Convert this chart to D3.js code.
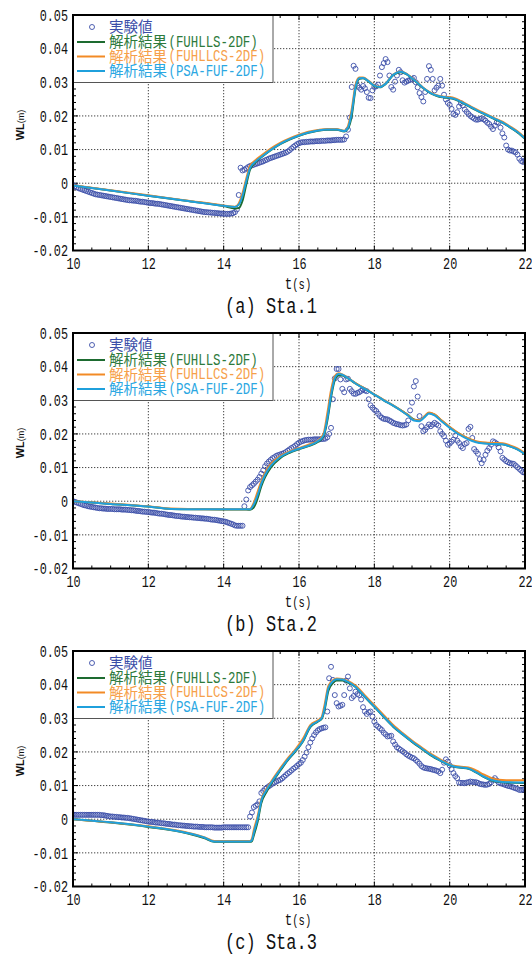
<!DOCTYPE html>
<html><head><meta charset="utf-8">
<script src="https://cdn.jsdelivr.net/npm/d3@7"></script>
<style>body{margin:0;background:#fff}svg{display:block}</style>
</head><body>
<svg id="c" width="532" height="955"></svg>
<script>
// ---------- DATA ----------
const expStart = 10, expStep = 0.05;   // measurement sampling grid (s)
const sta1Exp = [
-0.0006,-0.0009,-0.0012,-0.0015,-0.0017,-0.0019,-0.0021,-0.0023,-0.0025,-0.0027,-0.0029,-0.0031,-0.0033,-0.0034,-0.0035,-0.0036,-0.0037,-0.0038,-0.0039,-0.0040,
-0.0041,-0.0042,-0.0043,-0.0044,-0.0045,-0.0046,-0.0047,-0.0048,-0.0049,-0.0050,-0.0051,-0.0051,-0.0052,-0.0052,-0.0053,-0.0054,-0.0055,-0.0055,-0.0056,-0.0057,
-0.0058,-0.0059,-0.0059,-0.0060,-0.0061,-0.0061,-0.0062,-0.0063,-0.0064,-0.0065,-0.0066,-0.0067,-0.0068,-0.0069,-0.0070,-0.0071,-0.0072,-0.0073,-0.0074,-0.0075,
-0.0076,-0.0077,-0.0078,-0.0079,-0.0080,-0.0081,-0.0082,-0.0083,-0.0084,-0.0085,-0.0086,-0.0086,-0.0087,-0.0087,-0.0088,-0.0088,-0.0089,-0.0089,-0.0090,-0.0090,
-0.0091,-0.0091,-0.0091,-0.0091,-0.0090,-0.0089,-0.0086,-0.0078,-0.0035,0.0046,0.0038,0.0040,0.0044,0.0048,0.0051,0.0053,0.0055,0.0057,0.0059,0.0061,
0.0063,0.0065,0.0068,0.0070,0.0073,0.0075,0.0077,0.0079,0.0081,0.0083,0.0085,0.0087,0.0089,0.0091,0.0094,0.0098,0.0103,0.0108,0.0112,0.0116,
0.0119,0.0121,0.0122,0.0122,0.0123,0.0123,0.0124,0.0124,0.0124,0.0125,0.0125,0.0125,0.0126,0.0126,0.0126,0.0127,0.0127,0.0127,0.0128,0.0128,
0.0129,0.0129,0.0129,0.0129,0.0130,0.0139,0.0159,0.0195,0.0286,0.0349,0.0340,0.0290,0.0284,0.0278,0.0289,0.0282,0.0271,0.0254,0.0253,0.0276,
0.0286,0.0288,0.0293,0.0320,0.0345,0.0357,0.0369,0.0360,0.0320,0.0286,0.0278,0.0302,0.0320,0.0337,0.0330,0.0306,0.0299,0.0302,0.0305,0.0307,
0.0310,0.0313,0.0300,0.0285,0.0268,0.0256,0.0243,0.0271,0.0310,0.0348,0.0337,0.0310,0.0276,0.0284,0.0290,0.0310,0.0290,0.0263,0.0249,0.0239,
0.0233,0.0221,0.0206,0.0203,0.0211,0.0228,0.0238,0.0231,0.0219,0.0212,0.0206,0.0200,0.0196,0.0192,0.0189,0.0189,0.0191,0.0193,0.0190,0.0186,
0.0180,0.0176,0.0168,0.0161,0.0171,0.0181,0.0180,0.0165,0.0148,0.0136,0.0112,0.0100,0.0097,0.0097,0.0094,0.0092,0.0085,0.0073,0.0066,0.0063,0.0068
];
const sta2Exp = [
0.0000,-0.0002,-0.0004,-0.0006,-0.0008,-0.0010,-0.0012,-0.0013,-0.0015,-0.0016,-0.0017,-0.0018,-0.0019,-0.0020,-0.0021,-0.0021,-0.0022,-0.0022,-0.0023,-0.0023,
-0.0023,-0.0023,-0.0024,-0.0024,-0.0024,-0.0024,-0.0025,-0.0025,-0.0025,-0.0026,-0.0026,-0.0027,-0.0027,-0.0028,-0.0029,-0.0029,-0.0030,-0.0031,-0.0031,-0.0032,
-0.0032,-0.0033,-0.0034,-0.0034,-0.0035,-0.0036,-0.0037,-0.0037,-0.0038,-0.0039,-0.0040,-0.0041,-0.0041,-0.0042,-0.0043,-0.0044,-0.0044,-0.0045,-0.0046,-0.0046,
-0.0047,-0.0047,-0.0048,-0.0048,-0.0049,-0.0049,-0.0050,-0.0050,-0.0051,-0.0051,-0.0052,-0.0052,-0.0053,-0.0054,-0.0055,-0.0055,-0.0056,-0.0057,-0.0058,-0.0059,
-0.0060,-0.0061,-0.0063,-0.0065,-0.0067,-0.0069,-0.0072,-0.0073,-0.0073,-0.0073,-0.0073,-0.0015,0.0005,0.0032,0.0042,0.0047,0.0052,0.0058,0.0064,0.0072,
0.0082,0.0092,0.0104,0.0112,0.0118,0.0123,0.0128,0.0131,0.0135,0.0137,0.0139,0.0141,0.0143,0.0146,0.0150,0.0154,0.0158,0.0161,0.0165,0.0170,
0.0174,0.0177,0.0179,0.0181,0.0182,0.0183,0.0183,0.0183,0.0184,0.0184,0.0184,0.0184,0.0185,0.0185,0.0186,0.0190,0.0200,0.0218,0.0303,0.0365,
0.0393,0.0393,0.0362,0.0334,0.0324,0.0362,0.0364,0.0334,0.0327,0.0320,0.0319,0.0322,0.0324,0.0328,0.0332,0.0329,0.0327,0.0303,0.0285,0.0278,
0.0272,0.0268,0.0260,0.0253,0.0248,0.0245,0.0244,0.0243,0.0240,0.0237,0.0233,0.0231,0.0229,0.0228,0.0226,0.0225,0.0226,0.0228,0.0240,0.0270,
0.0293,0.0341,0.0357,0.0311,0.0253,0.0223,0.0208,0.0212,0.0220,0.0228,0.0223,0.0228,0.0233,0.0229,0.0225,0.0208,0.0200,0.0193,0.0180,0.0168,
0.0171,0.0177,0.0183,0.0195,0.0180,0.0173,0.0163,0.0158,0.0170,0.0173,0.0215,0.0221,0.0188,0.0155,0.0148,0.0141,0.0125,0.0113,0.0123,0.0138,
0.0150,0.0158,0.0168,0.0178,0.0175,0.0171,0.0160,0.0148,0.0129,0.0124,0.0119,0.0116,0.0113,0.0112,0.0111,0.0106,0.0101,0.0096,0.0091,0.0086,0.0085
];
const sta3Exp = [
0.0013,0.0013,0.0013,0.0013,0.0013,0.0013,0.0013,0.0013,0.0013,0.0013,0.0013,0.0013,0.0013,0.0013,0.0013,0.0012,0.0012,0.0011,0.0010,0.0009,
0.0008,0.0008,0.0007,0.0007,0.0006,0.0006,0.0005,0.0005,0.0004,0.0004,0.0003,0.0002,0.0001,0.0000,-0.0001,-0.0002,-0.0003,-0.0004,-0.0005,-0.0006,
-0.0007,-0.0008,-0.0008,-0.0009,-0.0010,-0.0010,-0.0011,-0.0012,-0.0012,-0.0013,-0.0014,-0.0014,-0.0015,-0.0016,-0.0016,-0.0017,-0.0018,-0.0018,-0.0019,-0.0019,
-0.0020,-0.0020,-0.0021,-0.0021,-0.0022,-0.0022,-0.0022,-0.0023,-0.0023,-0.0023,-0.0024,-0.0024,-0.0024,-0.0024,-0.0024,-0.0025,-0.0025,-0.0025,-0.0025,-0.0025,
-0.0024,-0.0024,-0.0024,-0.0024,-0.0024,-0.0024,-0.0024,-0.0024,-0.0024,-0.0024,-0.0024,-0.0024,-0.0024,-0.0024,0.0008,0.0020,0.0036,0.0040,0.0044,0.0053,
0.0078,0.0084,0.0090,0.0094,0.0098,0.0102,0.0106,0.0109,0.0112,0.0115,0.0117,0.0121,0.0126,0.0131,0.0136,0.0140,0.0145,0.0150,0.0154,0.0159,
0.0164,0.0168,0.0176,0.0186,0.0198,0.0214,0.0228,0.0240,0.0250,0.0258,0.0264,0.0268,0.0270,0.0272,0.0273,0.0320,0.0419,0.0453,0.0414,0.0369,
0.0345,0.0335,0.0337,0.0340,0.0369,0.0412,0.0424,0.0389,0.0360,0.0366,0.0379,0.0372,0.0369,0.0356,0.0333,0.0320,0.0313,0.0318,0.0320,0.0305,
0.0290,0.0280,0.0275,0.0270,0.0265,0.0257,0.0252,0.0246,0.0247,0.0248,0.0231,0.0222,0.0214,0.0210,0.0206,0.0202,0.0198,0.0193,0.0189,0.0186,
0.0183,0.0181,0.0176,0.0171,0.0165,0.0158,0.0154,0.0152,0.0151,0.0150,0.0149,0.0147,0.0146,0.0144,0.0142,0.0137,0.0147,0.0168,0.0178,0.0171,
0.0160,0.0149,0.0137,0.0128,0.0122,0.0109,0.0108,0.0108,0.0107,0.0109,0.0110,0.0112,0.0111,0.0110,0.0110,0.0108,0.0105,0.0104,0.0103,0.0102,
0.0103,0.0105,0.0110,0.0117,0.0122,0.0115,0.0109,0.0107,0.0105,0.0103,0.0101,0.0099,0.0098,0.0096,0.0094,0.0092,0.0090,0.0087,0.0087,0.0088,0.0089
];

// model output times and values
const sta1ModelT = [10,11,12,13,14,14.3,14.4,14.5,14.6,14.7,14.85,15,15.25,15.5,15.75,16,16.25,16.5,16.75,17,17.2,17.3,17.4,17.5,17.6,17.7,17.85,18,18.15,18.3,18.5,18.7,18.85,19,19.15,19.3,19.5,19.7,19.85,20,20.15,20.3,20.5,20.7,21,21.2,21.4,21.6,21.8,22];
const sta1Fuhlls = [-0.0007,-0.0022,-0.0037,-0.0052,-0.0068,-0.0075,-0.0074,-0.0052,-0.0004,0.0040,0.0063,0.0077,0.0098,0.0116,0.0130,0.0141,0.0150,0.0156,0.0159,0.0159,0.0154,0.0162,0.0200,0.0280,0.0310,0.0312,0.0302,0.0289,0.0285,0.0295,0.0321,0.0330,0.0324,0.0311,0.0297,0.0282,0.0267,0.0258,0.0255,0.0253,0.0249,0.0241,0.0229,0.0217,0.0201,0.0190,0.0180,0.0166,0.0151,0.0132];
const sta1Fuhllcs = [-0.0006,-0.0021,-0.0036,-0.0051,-0.0066,-0.0070,-0.0060,-0.0030,0.0014,0.0052,0.0069,0.0082,0.0103,0.0120,0.0133,0.0144,0.0153,0.0158,0.0161,0.0161,0.0156,0.0170,0.0220,0.0292,0.0314,0.0314,0.0304,0.0291,0.0287,0.0297,0.0323,0.0332,0.0326,0.0313,0.0299,0.0284,0.0269,0.0260,0.0257,0.0256,0.0252,0.0244,0.0232,0.0220,0.0204,0.0193,0.0183,0.0169,0.0154,0.0135];
const sta1Psa = [-0.0007,-0.0022,-0.0037,-0.0052,-0.0067,-0.0071,-0.0064,-0.0038,0.0006,0.0045,0.0065,0.0078,0.0099,0.0117,0.0131,0.0142,0.0151,0.0157,0.0160,0.0160,0.0155,0.0165,0.0210,0.0285,0.0312,0.0313,0.0303,0.0290,0.0286,0.0296,0.0322,0.0331,0.0325,0.0312,0.0298,0.0283,0.0268,0.0259,0.0256,0.0254,0.0250,0.0242,0.0230,0.0218,0.0202,0.0191,0.0181,0.0167,0.0152,0.0133];

const sta2ModelT = [10,11,12,12.6,13.5,14.6,14.7,14.8,14.9,15,15.1,15.25,15.5,15.75,16,16.25,16.5,16.65,16.75,16.85,16.95,17.05,17.15,17.3,17.5,17.75,18,18.25,18.5,18.75,18.9,19.05,19.2,19.35,19.45,19.6,19.8,20,20.2,20.4,20.6,20.8,21,21.2,21.4,21.6,21.8,22];
const sta2Fuhlls = [0.0000,-0.0008,-0.0016,-0.0023,-0.0024,-0.0025,-0.0025,-0.0018,0.0008,0.0045,0.0072,0.0100,0.0128,0.0144,0.0155,0.0164,0.0176,0.0192,0.0238,0.0308,0.0360,0.0374,0.0374,0.0365,0.0350,0.0334,0.0317,0.0300,0.0284,0.0267,0.0256,0.0243,0.0240,0.0253,0.0262,0.0257,0.0238,0.0220,0.0204,0.0191,0.0181,0.0174,0.0172,0.0170,0.0169,0.0163,0.0154,0.0140];
const sta2Fuhllcs = [0.0000,-0.0007,-0.0015,-0.0022,-0.0024,-0.0024,-0.0023,-0.0004,0.0028,0.0060,0.0084,0.0110,0.0134,0.0148,0.0158,0.0168,0.0180,0.0200,0.0260,0.0330,0.0372,0.0380,0.0377,0.0367,0.0351,0.0335,0.0318,0.0301,0.0285,0.0267,0.0255,0.0242,0.0240,0.0255,0.0264,0.0258,0.0239,0.0221,0.0205,0.0192,0.0182,0.0176,0.0174,0.0173,0.0172,0.0166,0.0157,0.0143];
const sta2Psa = [0.0000,-0.0008,-0.0016,-0.0023,-0.0024,-0.0024,-0.0024,-0.0010,0.0018,0.0052,0.0078,0.0105,0.0131,0.0146,0.0156,0.0165,0.0178,0.0195,0.0245,0.0315,0.0365,0.0378,0.0376,0.0366,0.0350,0.0334,0.0317,0.0300,0.0284,0.0266,0.0254,0.0240,0.0238,0.0252,0.0261,0.0255,0.0236,0.0218,0.0202,0.0189,0.0179,0.0173,0.0171,0.0170,0.0169,0.0163,0.0154,0.0140];

const sta3ModelT = [10,11,12,13,13.5,13.75,14.7,14.75,14.8,14.9,15,15.15,15.3,15.5,15.7,15.9,16.1,16.3,16.5,16.6,16.67,16.78,16.9,17,17.15,17.3,17.5,17.75,18,18.25,18.5,18.75,19,19.25,19.5,19.75,20,20.15,20.3,20.5,20.7,20.9,21.1,21.3,21.5,22];
const sta3Fuhlls = [0.0000,-0.0010,-0.0023,-0.0041,-0.0057,-0.0067,-0.0067,-0.0065,-0.0048,-0.0008,0.0048,0.0084,0.0112,0.0144,0.0175,0.0201,0.0230,0.0274,0.0290,0.0298,0.0320,0.0382,0.0405,0.0412,0.0412,0.0406,0.0393,0.0363,0.0334,0.0304,0.0275,0.0252,0.0230,0.0210,0.0190,0.0174,0.0160,0.0155,0.0153,0.0150,0.0139,0.0126,0.0116,0.0111,0.0109,0.0108];
const sta3Fuhllcs = [0.0000,-0.0009,-0.0021,-0.0039,-0.0054,-0.0065,-0.0065,-0.0058,-0.0032,0.0008,0.0060,0.0092,0.0119,0.0151,0.0181,0.0207,0.0238,0.0280,0.0294,0.0303,0.0335,0.0396,0.0413,0.0418,0.0417,0.0411,0.0397,0.0368,0.0339,0.0309,0.0280,0.0256,0.0234,0.0214,0.0194,0.0178,0.0163,0.0158,0.0156,0.0154,0.0145,0.0133,0.0123,0.0117,0.0116,0.0116];
const sta3Psa = [0.0000,-0.0009,-0.0022,-0.0040,-0.0055,-0.0066,-0.0066,-0.0062,-0.0040,0.0000,0.0055,0.0088,0.0115,0.0147,0.0177,0.0203,0.0232,0.0276,0.0291,0.0300,0.0325,0.0390,0.0410,0.0416,0.0415,0.0408,0.0394,0.0364,0.0335,0.0305,0.0276,0.0253,0.0231,0.0211,0.0191,0.0175,0.0161,0.0156,0.0154,0.0151,0.0140,0.0127,0.0117,0.0112,0.0110,0.0109];

const xTickValues = [10,12,14,16,18,20,22];
const yTickValues = [-0.02,-0.01,0,0.01,0.02,0.03,0.04,0.05];
const legendJa = ["実験値","解析結果","解析結果","解析結果"];
const legendModel = ["","(FUHLLS-2DF)","(FUHLLCS-2DF)","(PSA-FUF-2DF)"];
const panelTitles = ["(a) Sta.1","(b) Sta.2","(c) Sta.3"];
const xLabel = ["t","(s)"], yLabel = ["WL","(m)"];

// ---------- STYLE ----------
const plotL = 73, plotR = 525, plotH = 235.5;
const panelTops = [15, 333, 651];
const expColor = "#3b4ea8";
const lineColors = ["#1d6b30", "#f28a25", "#1fa0dc"];
const textColors = ["#3b4ea8", "#2d7a3c", "#f6a04a", "#2ba7e2"];
const monoFont = "'Liberation Mono', 'DejaVu Sans Mono', monospace";
const cjkFont = "'Noto Sans CJK JP', 'Noto Sans', sans-serif";

const panels = [
  {exp: sta1Exp, mt: sta1ModelT, series: [sta1Fuhlls, sta1Fuhllcs, sta1Psa]},
  {exp: sta2Exp, mt: sta2ModelT, series: [sta2Fuhlls, sta2Fuhllcs, sta2Psa]},
  {exp: sta3Exp, mt: sta3ModelT, series: [sta3Fuhlls, sta3Fuhllcs, sta3Psa]}
];

const svg = d3.select("#c");
const x = d3.scaleLinear().domain([10, 22]).range([plotL, plotR]);
const y = d3.scaleLinear().domain([-0.02, 0.05]).range([plotH, 0]);

panels.forEach((p, i) => {
  const g = svg.append("g").attr("transform", `translate(0,${panelTops[i]})`);
  const clipId = "clip" + i;
  g.append("clipPath").attr("id", clipId).append("rect")
    .attr("x", plotL).attr("y", 0).attr("width", plotR - plotL).attr("height", plotH);

  // grid
  const grid = g.append("g").attr("stroke", "#444").attr("stroke-width", 1).attr("stroke-dasharray", "1.3,1.7");
  xTickValues.slice(1, -1).forEach(t => grid.append("line")
    .attr("x1", x(t)).attr("x2", x(t)).attr("y1", 0).attr("y2", plotH));
  yTickValues.slice(1, -1).forEach(v => grid.append("line")
    .attr("x1", plotL).attr("x2", plotR).attr("y1", y(v)).attr("y2", y(v)));

  // inward ticks
  const tk = g.append("g").attr("stroke", "#000").attr("stroke-width", 1);
  x.ticks(24).forEach(t => {
    const L = xTickValues.some(m => Math.abs(m - t) < 1e-9) ? 5 : 3;
    tk.append("line").attr("x1", x(t)).attr("x2", x(t)).attr("y1", plotH).attr("y2", plotH - L);
    tk.append("line").attr("x1", x(t)).attr("x2", x(t)).attr("y1", 0).attr("y2", L);
  });
  y.ticks(35).forEach(v => {
    const L = yTickValues.some(m => Math.abs(m - v) < 1e-9) ? 5 : 3;
    tk.append("line").attr("x1", plotL).attr("x2", plotL + L).attr("y1", y(v)).attr("y2", y(v));
    tk.append("line").attr("x1", plotR).attr("x2", plotR - L).attr("y1", y(v)).attr("y2", y(v));
  });

  const plot = g.append("g").attr("clip-path", `url(#${clipId})`);
  // experimental
  const expPts = p.exp.map((v, k) => ({t: expStart + k * expStep, v}));
  plot.append("g").selectAll("circle").data(expPts).join("circle")
    .attr("cx", d => x(d.t)).attr("cy", d => y(d.v)).attr("r", 2.5)
    .attr("fill", "none").attr("stroke", expColor).attr("stroke-width", 0.9);
  // model lines
  const line = d3.line().x(d => x(d[0])).y(d => y(d[1])).curve(d3.curveMonotoneX);
  p.series.forEach((s, k) => {
    plot.append("path").datum(p.mt.map((t, j) => [t, s[j]]))
      .attr("d", line).attr("fill", "none").attr("stroke", lineColors[k])
      .attr("stroke-width", 2).attr("stroke-linejoin", "round");
  });

  // legend
  const lg = g.append("g");
  lg.append("rect").attr("x", plotL).attr("y", 0).attr("width", 200).attr("height", 67.5)
    .attr("fill", "#fff").attr("stroke", "#555").attr("stroke-width", 1);
  const rowY = [12, 27, 41.5, 56];
  legendJa.forEach((lab, k) => {
    if (k === 0) {
      lg.append("circle").attr("cx", 92).attr("cy", rowY[k]).attr("r", 2.5)
        .attr("fill", "none").attr("stroke", expColor).attr("stroke-width", 0.9);
    } else {
      lg.append("line").attr("x1", 77).attr("x2", 105).attr("y1", rowY[k]).attr("y2", rowY[k])
        .attr("stroke", lineColors[k - 1]).attr("stroke-width", 2);
    }
    lg.append("text").attr("x", 109).attr("y", rowY[k]).attr("dy", "0.37em")
      .attr("font-family", cjkFont).attr("font-size", 14.5).attr("fill", textColors[k]).text(lab);
    if (legendModel[k]) {
      lg.append("text").attr("transform", `translate(168.5,${rowY[k] + 4.6}) scale(1,1.35)`)
        .attr("font-family", monoFont).attr("font-size", 12.4).attr("fill", textColors[k])
        .text(legendModel[k]);
    }
  });

  // frame
  g.append("rect").attr("x", plotL).attr("y", 0).attr("width", plotR - plotL).attr("height", plotH)
    .attr("fill", "none").attr("stroke", "#000").attr("stroke-width", 2);

  // axes labels (via d3 axes)
  const ax = g.append("g").attr("transform", `translate(0,${plotH})`)
    .call(d3.axisBottom(x).tickValues(xTickValues).tickSize(0).tickPadding(5).tickFormat(d3.format("d")));
  const ay = g.append("g").attr("transform", `translate(${plotL},0)`)
    .call(d3.axisLeft(y).tickValues(yTickValues).tickSize(0).tickPadding(5)
      .tickFormat(d => d === 0 ? "0" : (d < 0 ? "-" : "") + Math.abs(d).toFixed(2)));
  [ax, ay].forEach(a => {
    a.select(".domain").remove();
    a.selectAll("text").attr("font-family", monoFont).attr("font-size", 11.8)
      .attr("fill", "#111").attr("transform", "scale(1,1.4)");
  });

  // x label
  const xl = g.append("text").attr("transform", `translate(298,${plotH + 38.5}) scale(1,1.35)`)
    .attr("text-anchor", "middle").attr("font-family", monoFont).attr("fill", "#111");
  xl.append("tspan").attr("font-size", 12.5).text(xLabel[0]);
  xl.append("tspan").attr("font-size", 10.5).text(xLabel[1]);

  // y label
  const yl = g.append("text").attr("transform", `translate(24,110) rotate(-90)`)
    .attr("text-anchor", "middle").attr("fill", "#111")
    .attr("font-family", "'Liberation Sans', Arial, sans-serif");
  yl.append("tspan").attr("font-weight", "bold").attr("font-size", 11).text(yLabel[0]);
  yl.append("tspan").attr("font-size", 9).text(yLabel[1]);

  // title
  g.append("text").attr("transform", `translate(271,${plotH + 62.5}) scale(1,1.35)`)
    .attr("text-anchor", "middle").attr("font-family", monoFont).attr("font-size", 17)
    .attr("fill", "#111").text(panelTitles[i]);
});
</script>
</body></html>
